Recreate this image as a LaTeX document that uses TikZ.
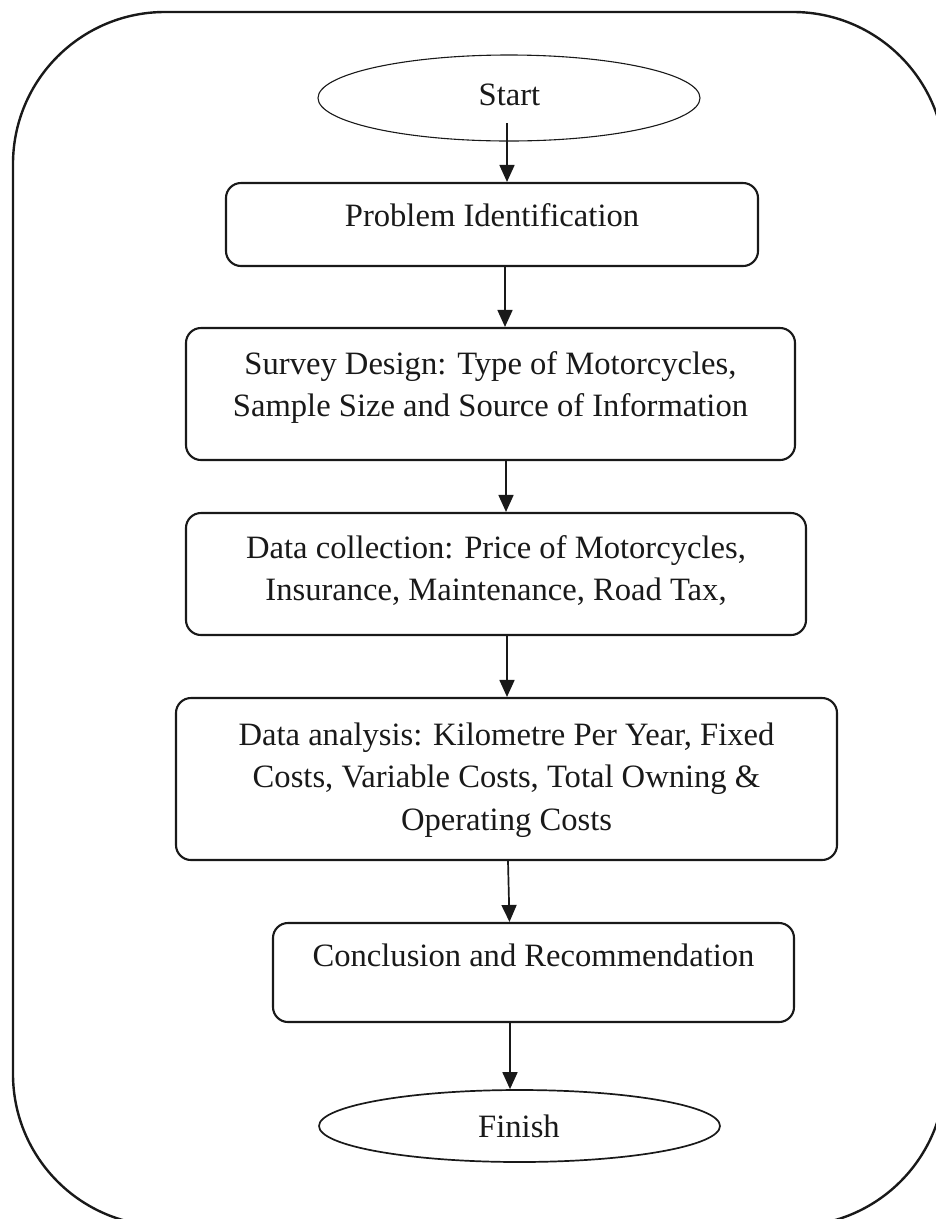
\documentclass[tikz,border=0pt]{standalone}
\usepackage{fontspec}
\setmainfont{Liberation Serif}
\usetikzlibrary{shapes.geometric,arrows.meta}
\tikzset{
  boxnode/.style={draw=black!90, line width=2.1pt, rounded corners=15pt, inner sep=0pt},
  ovalnode/.style={draw=black!90, ellipse, inner sep=0pt},
  txt/.style={anchor=base, inner sep=0pt, text=black!90, font=\fontsize{32.6}{42.5}\selectfont},
  arr/.style={draw=black!90, line width=1.7pt, -{Triangle[length=17pt,width=15pt]}},
  framepath/.style={draw=black!90, line width=2.4pt, rounded corners=152pt}
}
\begin{document}
\begin{tikzpicture}[x=1pt,y=-1pt]
\useasboundingbox (0,0) rectangle (936,1219);
\begin{scope}
  \clip (0,0) rectangle (936,1219);
  \draw[framepath] (13,12) rectangle (945,1226);
\end{scope}

% shapes
\node[ovalnode, line width=1.1pt, minimum width=382pt, minimum height=86pt] (start) at (509,98) {};
\node[boxnode, minimum width=532pt, minimum height=83pt] (b1) at (492,224.5) {};
\node[boxnode, minimum width=609pt, minimum height=132pt] (b2) at (490.5,394) {};
\node[boxnode, minimum width=620pt, minimum height=122pt] (b3) at (496,574) {};
\node[boxnode, minimum width=661pt, minimum height=162pt] (b4) at (506.5,779) {};
\node[boxnode, minimum width=521pt, minimum height=99pt] (b5) at (533.5,972.5) {};
\node[ovalnode, line width=1.7pt, minimum width=401pt, minimum height=72pt] (fin) at (519.5,1126) {};

% texts
\node[txt] (tstart) at (509.5,105) {Start};
\node[txt] (t1) at (492,226) {Problem Identification};
\node[txt] (t2) at (490.5,374) {\begin{tabular}[t]{@{}c@{}}Survey Design: Type of Motorcycles,\\ Sample Size and Source of Information\end{tabular}};
\node[txt] (t3) at (496,558) {\begin{tabular}[t]{@{}c@{}}Data collection: Price of Motorcycles,\\ Insurance, Maintenance, Road Tax,\end{tabular}};
\node[txt] (t4) at (506.5,745) {\begin{tabular}[t]{@{}c@{}}Data analysis: Kilometre Per Year, Fixed\\ Costs, Variable Costs, Total Owning \&\\ Operating Costs\end{tabular}};
\node[txt] (t5) at (533.5,966) {Conclusion and Recommendation};
\node[txt] (tfin) at (519,1137) {Finish};

% connectors
\draw[arr] ([xshift=-2pt,yshift=-25pt]start.center) -- ([xshift=-2pt]start.center |- b1.north);
\draw[arr] ([xshift=13pt]b1.south) -- ([xshift=13pt]b1.south |- b2.north);
\draw[arr] ([xshift=15.5pt]b2.south) -- ([xshift=15.5pt]b2.south |- b3.north);
\draw[arr] ([xshift=11pt]b3.south) -- ([xshift=11pt]b3.south |- b4.north);
\draw[arr] ([xshift=1.5pt]b4.south) -- ([xshift=-24pt]b5.north);
\draw[arr] ([xshift=-23.5pt]b5.south) -- ([xshift=-23.5pt]b5.south |- fin.north);
\end{tikzpicture}
\end{document}
